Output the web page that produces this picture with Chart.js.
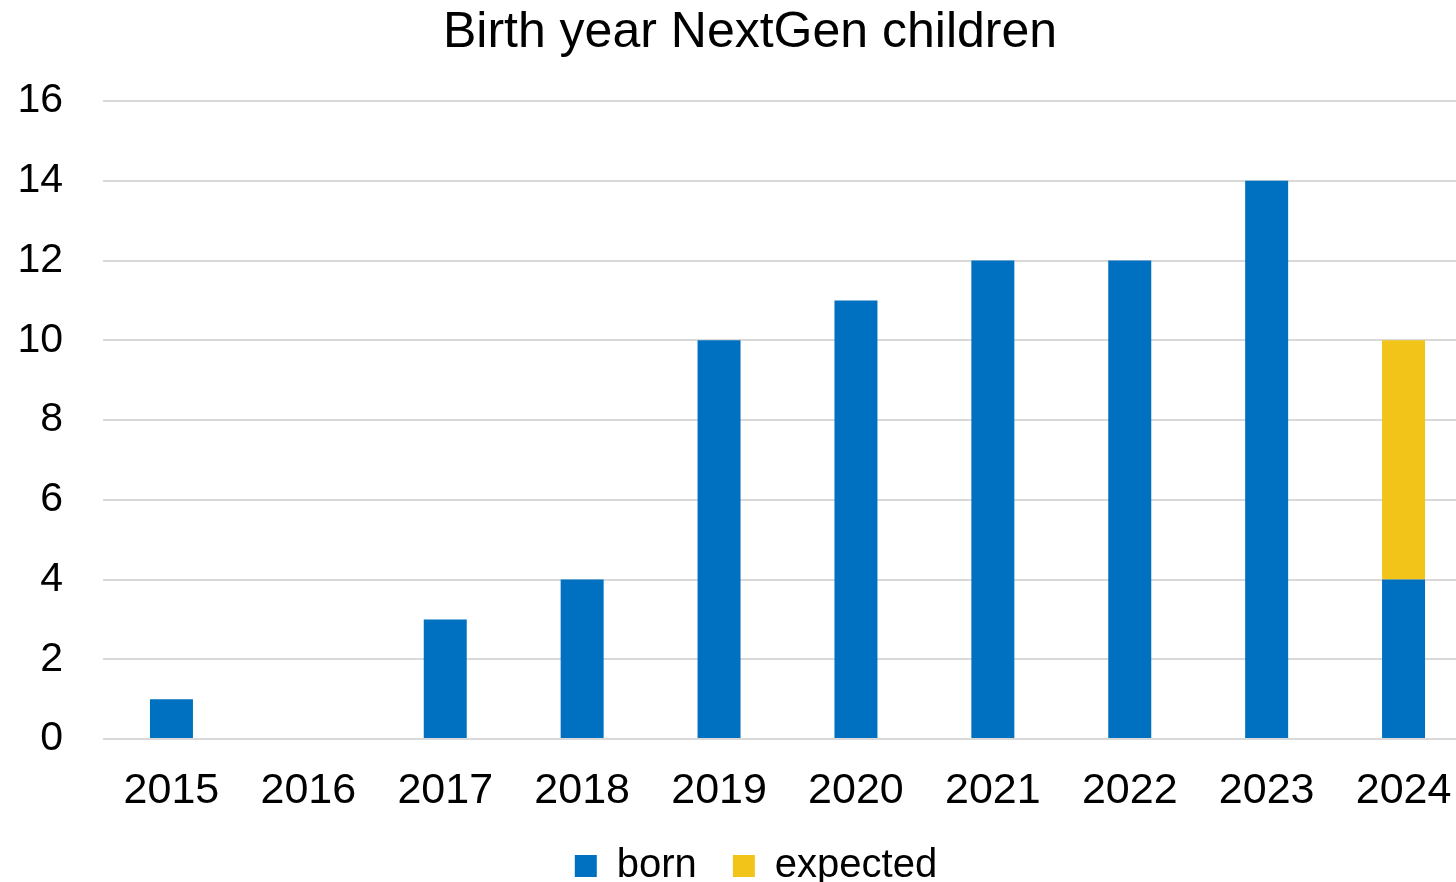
<!DOCTYPE html>
<html>
<head>
<meta charset="utf-8">
<script src="https://cdn.jsdelivr.net/npm/chart.js@4"></script>
<style>
  html, body { margin: 0; padding: 0; background: #fff; overflow: hidden; }
  #wrap { width: 1472px; height: 896px; }
</style>
</head>
<body>
<div id="wrap"><canvas id="myChart"></canvas></div>
<script>
const years = ['2015', '2016', '2017', '2018', '2019', '2020', '2021', '2022', '2023', '2024'];
const born = [1, 0, 3, 4, 10, 11, 12, 12, 14, 4];
const expected = [0, 0, 0, 0, 0, 0, 0, 0, 0, 6];
const yTicks = [0, 2, 4, 6, 8, 10, 12, 14, 16];

const ctx = document.getElementById('myChart');
const font = "'Liberation Sans', Arial, sans-serif";

// the original chart is cut off on the right, so nudge title and legend
// back to where they sit in the picture
const shiftBlocks = {
  id: 'shiftBlocks',
  afterLayout(chart) {
    if (chart.titleBlock) { chart.titleBlock.left += 14; chart.titleBlock.right += 14; }
    if (chart.legend) { chart.legend.left += 20; chart.legend.right += 20; }
  }
};

const c = new Chart(ctx, {
  type: 'bar',
  data: {
    labels: years,
    datasets: [
      { label: 'born', data: born, backgroundColor: '#0070C0' },
      { label: 'expected', data: expected, backgroundColor: '#F2C318' }
    ]
  },
  options: {
    responsive: true,
    maintainAspectRatio: false,
    animation: false,
    categoryPercentage: 1,
    barPercentage: 0.314,
    layout: { padding: 0 },
    plugins: {
      title: {
        display: true,
        text: 'Birth year NextGen children',
        color: '#000',
        font: { family: font, size: 50, weight: 'normal' },
        padding: { top: 3, bottom: 38 }
      },
      legend: {
        position: 'bottom',
        labels: {
          color: '#000',
          font: { family: font, size: 40 },
          boxWidth: 22,
          boxHeight: 22,
          padding: 36
        }
      },
      tooltip: { enabled: false }
    },
    scales: {
      x: {
        stacked: true,
        afterFit: (axis) => { axis.height = 71; },
        grid: { display: false },
        border: { display: false },
        ticks: { color: '#000', font: { family: font, size: 43 }, padding: 18, maxRotation: 0 }
      },
      y: {
        stacked: true,
        min: 0,
        max: 16,
        afterBuildTicks: (axis) => { axis.ticks = yTicks.map(v => ({ value: v })); },
        afterFit: (axis) => { axis.width = 103; },
        grid: { color: '#d9d9d9', lineWidth: 2, drawTicks: false },
        border: { display: false },
        ticks: { color: '#000', font: { family: font, size: 41 }, padding: 40 }
      }
    }
  },
  plugins: [shiftBlocks]
});
</script>
</body>
</html>
